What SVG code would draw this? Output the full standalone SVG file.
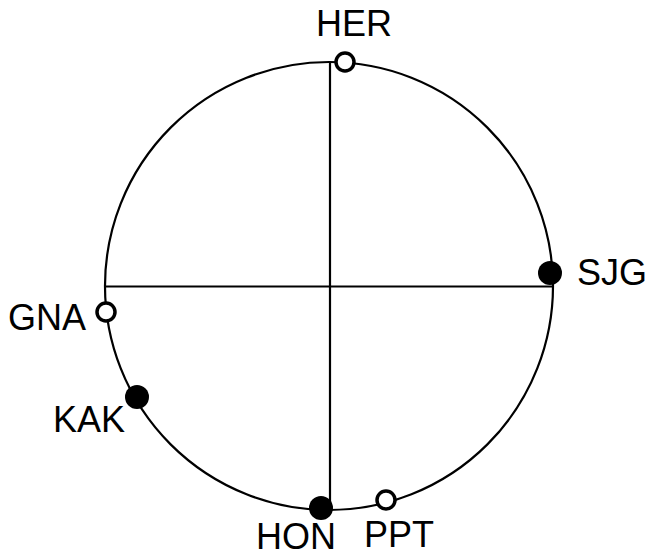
<svg xmlns="http://www.w3.org/2000/svg" width="648" height="558" viewBox="0 0 648 558">
<style>
.ln{fill:none;stroke:#000;stroke-width:2.2}
.open{fill:#fff;stroke:#000;stroke-width:3.5}
.fill{fill:#000;stroke:none}
text{font-family:"Liberation Sans",Arial,sans-serif;font-size:36px;fill:#000}
</style>
<rect width="648" height="558" fill="#fff"/>
<g id="connectors">
<circle class="ln" cx="329" cy="286" r="224"/>
<line class="ln" x1="330" y1="62" x2="330" y2="510"/>
<line class="ln" x1="105" y1="286.5" x2="553" y2="286.5"/>
</g>
<g id="HER"><circle class="open" cx="345" cy="62" r="9"/><text x="316" y="36">HER</text></g>
<g id="SJG"><circle class="fill" cx="550" cy="273" r="12"/><text x="577" y="285">SJG</text></g>
<g id="GNA"><circle class="open" cx="106" cy="312" r="9"/><text x="8" y="330">GNA</text></g>
<g id="KAK"><circle class="fill" cx="137" cy="397" r="12"/><text x="53" y="432">KAK</text></g>
<g id="HON"><circle class="fill" cx="321" cy="508" r="12"/><text x="256" y="549">HON</text></g>
<g id="PPT"><circle class="open" cx="386" cy="500" r="9"/><text x="364" y="547">PPT</text></g>
</svg>
